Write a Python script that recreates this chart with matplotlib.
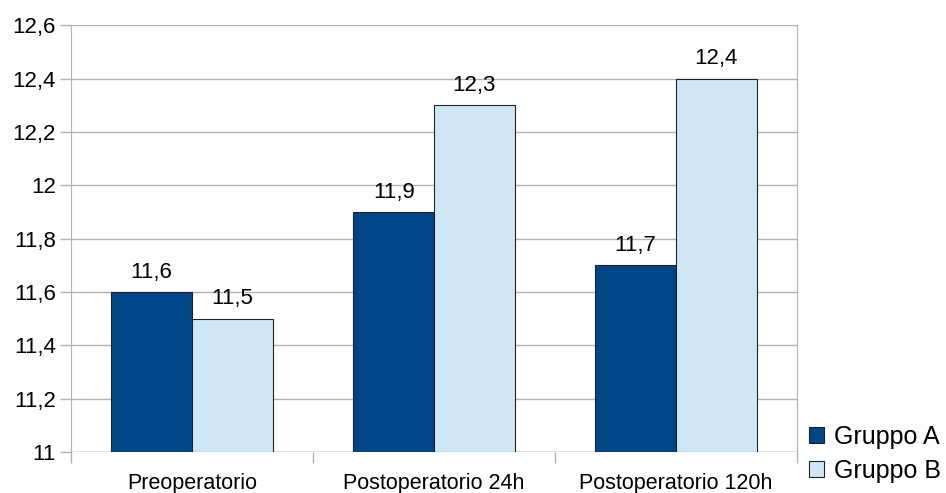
import numpy as np
import matplotlib.pyplot as plt
from matplotlib.patches import Patch

plt.rcParams['font.family'] = ['Liberation Sans', 'DejaVu Sans']

categories = ['Preoperatorio', 'Postoperatorio 24h', 'Postoperatorio 120h']
gruppo_a = [11.6, 11.9, 11.7]
gruppo_b = [11.5, 12.3, 12.4]
series_names = ['Gruppo A', 'Gruppo B']
colors = ['#004586', '#cfe7f5']
grid_col = '#b3b3b3'

fig = plt.figure(figsize=(9.46, 4.93), dpi=100)
ax = fig.add_axes([0.075, 0.083, 0.7675, 0.866])

x = np.arange(len(categories))
w = 1 / 3
base = 11.0
for i, (vals, col) in enumerate(zip([gruppo_a, gruppo_b], colors)):
    pos = x + (i - 0.5) * w
    heights = [v - base for v in vals]
    ax.bar(pos, heights, w, bottom=base, color=col, edgecolor='#222222',
           linewidth=0.8, zorder=3)
    for p, v in zip(pos, vals):
        ax.text(p, v + 0.035, f'{v:.1f}'.replace('.', ','), ha='center',
                va='bottom', fontsize=16)

ax.set_xlim(-0.5, len(categories) - 0.5)
ax.set_ylim(11, 12.6)
yt = np.arange(11, 12.61, 0.2)
ax.set_yticks(yt)
ax.set_yticklabels([('%g' % round(v, 1)).replace('.', ',') for v in yt])
ax.yaxis.grid(True, color=grid_col, linewidth=1, zorder=0)

ax.set_xticks(x)
ax.set_xticklabels(categories)
ax.set_xticks(np.arange(-0.5, len(categories)), minor=True)
ax.tick_params(axis='x', which='major', length=0, pad=15, labelsize=15.5)
ax.tick_params(axis='x', which='minor', length=8, color=grid_col, width=1)
ax.tick_params(axis='y', length=8, color=grid_col, width=1, pad=3, labelsize=16)

# left and right frame lines in grey, no top/bottom spine
for s in ['top', 'bottom']:
    ax.spines[s].set_visible(False)
for s in ['left', 'right']:
    ax.spines[s].set_color(grid_col)
ax.axhline(11, color=grid_col, linewidth=1, zorder=1)

handles = [Patch(facecolor=c, edgecolor='#222222', linewidth=0.8) for c in colors]
fig.legend(handles, series_names, loc='lower right', bbox_to_anchor=(1.018, -0.025),
           frameon=False, fontsize=18, handlelength=0.6, handleheight=0.6,
           handletextpad=0.4, labelspacing=0.4)

fig.savefig('out.png', dpi=100)
